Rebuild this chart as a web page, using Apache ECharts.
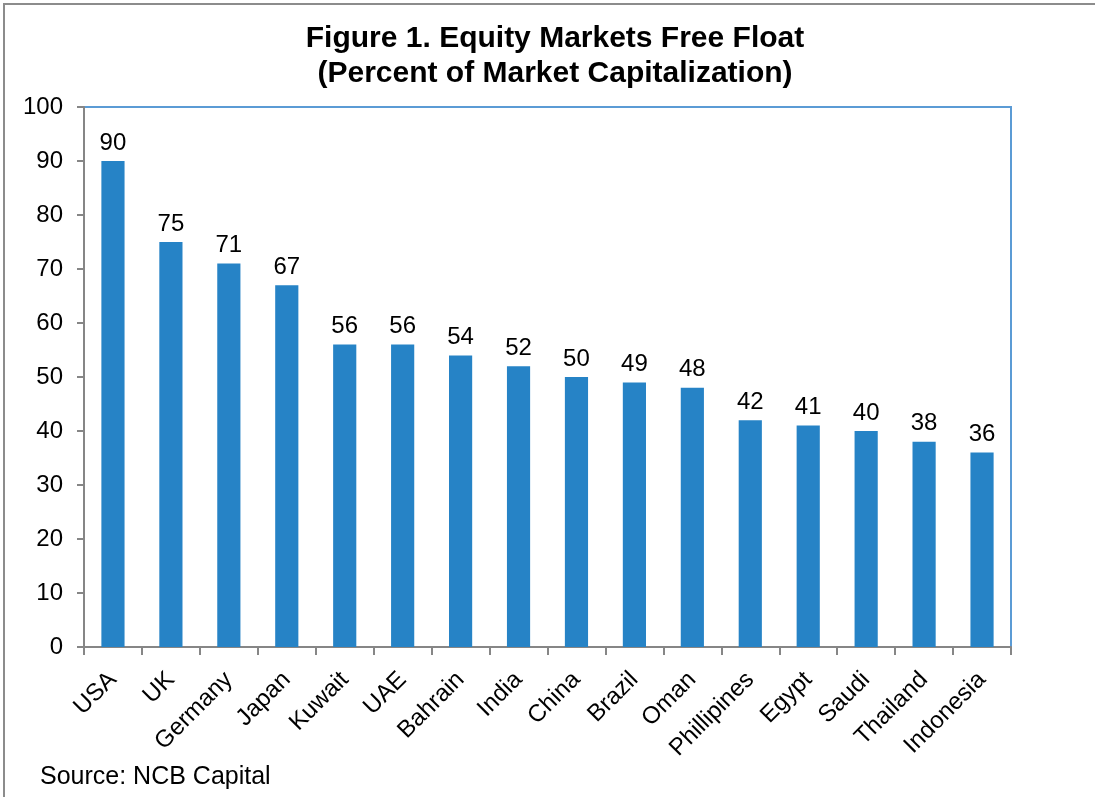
<!DOCTYPE html>
<html lang="en">
<head>
    <meta charset="UTF-8">
    <title>Equity Markets Free Float</title>
    <script src="https://cdn.jsdelivr.net/npm/echarts@6/dist/echarts.min.js"></script>
    <style>
        body { margin: 0; background: #fff; }
    </style>
</head>
<body>
<div id="myChart" style="height: 797px;width: 1095px;"></div>
<script>
    var countries = ['USA', 'UK', 'Germany', 'Japan', 'Kuwait', 'UAE', 'Bahrain', 'India',
        'China', 'Brazil', 'Oman', 'Phillipines', 'Egypt', 'Saudi', 'Thailand', 'Indonesia'];
    var freeFloat = [90, 75, 71, 67, 56, 56, 54, 52, 50, 49, 48, 42, 41, 40, 38, 36];

    var font = 'Liberation Sans, Arial, sans-serif';
    var chart = echarts.init(document.getElementById('myChart'));
    chart.setOption({
        animation: false,
        title: {
            text: 'Figure 1. Equity Markets Free Float\n(Percent of Market Capitalization)',
            left: 550,
            textAlign: 'center',
            top: 16,
            textStyle: {
                fontFamily: font,
                fontWeight: 'bold',
                fontSize: 30,
                lineHeight: 35,
                color: '#000'
            }
        },
        graphic: [
            {
                type: 'polyline',
                shape: { points: [[4, 797], [4, 4], [1095, 4]] },
                style: { stroke: '#8c8c8c', lineWidth: 2, fill: null }
            },
            {
                type: 'text',
                left: 40,
                top: 765,
                style: { text: 'Source: NCB Capital', font: '25px ' + font, fill: '#000' }
            }
        ],
        grid: {
            left: 84,
            right: 84,
            top: 107,
            bottom: 150,
            show: true,
            borderColor: '#5b9bd5',
            borderWidth: 2
        },
        xAxis: {
            type: 'category',
            data: countries,
            axisLine: { lineStyle: { color: '#868686', width: 2 } },
            axisTick: { show: true, length: 8, lineStyle: { color: '#868686', width: 2 } },
            axisLabel: {
                rotate: 45,
                interval: 0,
                margin: 29,
                fontFamily: font,
                fontSize: 24,
                color: '#000'
            }
        },
        yAxis: {
            type: 'value',
            min: 0,
            max: 100,
            interval: 10,
            axisLine: { show: true, lineStyle: { color: '#868686', width: 2 } },
            axisTick: { show: true, length: 7, lineStyle: { color: '#868686', width: 2 } },
            splitLine: { show: false },
            axisLabel: {
                margin: 21,
                fontFamily: font,
                fontSize: 24,
                color: '#000'
            }
        },
        series: [
            {
                type: 'bar',
                data: freeFloat,
                barWidth: '40%',
                itemStyle: { color: '#2683c6' },
                label: {
                    show: true,
                    position: 'top',
                    distance: 6,
                    fontFamily: font,
                    fontSize: 24,
                    color: '#000'
                }
            }
        ]
    });
</script>
</body>
</html>
